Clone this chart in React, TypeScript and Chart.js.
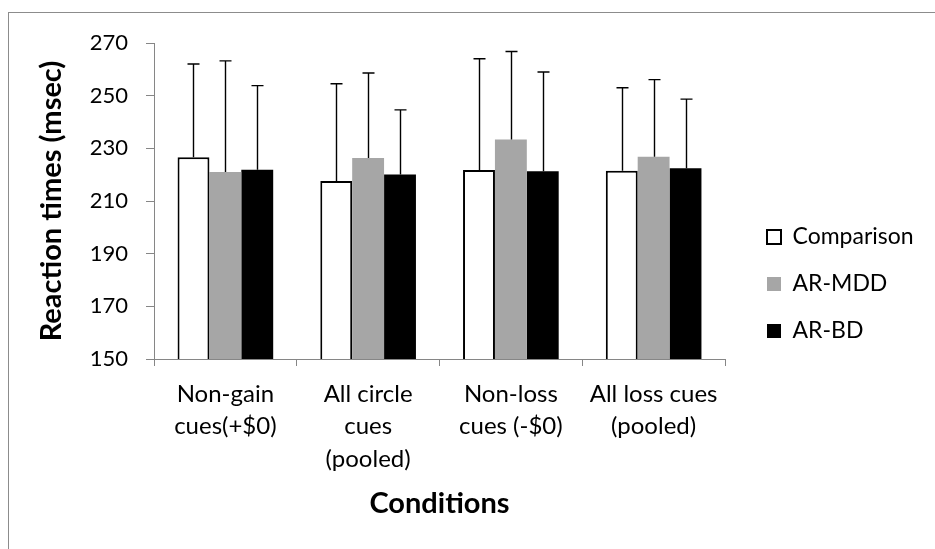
import React, { useEffect, useRef } from "react";
import { Chart, registerables } from "chart.js";

Chart.register(...registerables);

const categories: string[][] = [
  ["Non-gain", "cues(+$0)"],
  ["All circle", "cues", "(pooled)"],
  ["Non-loss", "cues (-$0)"],
  ["All loss cues", "(pooled)"],
];
const seriesNames = ["Comparison", "AR-MDD", "AR-BD"];
const comparison = [226.6, 217.6, 221.8, 221.5];
const arMdd = [221.0, 226.3, 233.4, 226.8];
const arBd = [221.9, 220.1, 221.3, 222.4];
const comparisonErr = [35.4, 36.9, 42.2, 31.5];
const arMddErr = [42.2, 32.3, 33.4, 29.3];
const arBdErr = [31.9, 24.5, 37.7, 26.3];
const yMin = 150;
const yMax = 270;
const yStep = 20;

const FONT = "Lato";
const AXIS_GRAY = "#868686";
const LEGEND_FONT = 23;
const LEGEND_PAD = 24;
const LEGEND_BOX = 14;
const LEGEND_LEFT = 743;

const framePlugin = {
  id: "frame",
  beforeDraw(chart: any) {
    const { ctx } = chart;
    ctx.save();
    ctx.fillStyle = "#fff";
    ctx.fillRect(0, 0, chart.width, chart.height);
    ctx.strokeStyle = "#8c8c8c";
    ctx.lineWidth = 1;
    ctx.strokeRect(8.5, 12.5, chart.width + 20, chart.height + 20);
    ctx.restore();
  },
};

const errorBarPlugin = {
  id: "errorBars",
  afterDatasetsDraw(chart: any) {
    const { ctx } = chart;
    const yScale = chart.scales.y;
    chart.data.datasets.forEach((ds: any, di: number) => {
      const meta = chart.getDatasetMeta(di);
      if (meta.hidden) return;
      meta.data.forEach((bar: any, i: number) => {
        const v = ds.data[i];
        const e = ds.errorUp[i];
        const top = yScale.getPixelForValue(v + e);
        const x = Math.round(bar.x) + 0.5;
        ctx.save();
        ctx.strokeStyle = "#000";
        ctx.lineWidth = 1.4;
        ctx.beginPath();
        ctx.moveTo(x, bar.y);
        ctx.lineTo(x, top);
        ctx.moveTo(x - 6, top);
        ctx.lineTo(x + 6, top);
        ctx.stroke();
        ctx.restore();
      });
    });
  },
};

export default function App() {
  const ref = useRef<HTMLCanvasElement | null>(null);

  useEffect(() => {
    if (!ref.current) return;
    Chart.defaults.font.family = FONT;

    const m = document.createElement("canvas").getContext("2d")!;
    m.font = `normal ${LEGEND_FONT}px ${FONT}`;
    const tw = Math.max(...seriesNames.map((s) => m.measureText(s).width));
    const legendW = LEGEND_PAD + LEGEND_BOX + LEGEND_FONT / 2 + tw + 10;
    const padRight = Math.max(0, 935 - LEGEND_LEFT - legendW);

    const chart = new Chart(ref.current, {
      type: "bar",
      data: {
        labels: categories,
        datasets: [
          {
            label: seriesNames[0],
            data: comparison,
            errorUp: comparisonErr,
            backgroundColor: "#ffffff",
            borderColor: "#000000",
            borderWidth: 2,
          } as any,
          {
            label: seriesNames[1],
            data: arMdd,
            errorUp: arMddErr,
            backgroundColor: "#a6a6a6",
            borderColor: "#a6a6a6",
            borderWidth: 0,
          } as any,
          {
            label: seriesNames[2],
            data: arBd,
            errorUp: arBdErr,
            backgroundColor: "#000000",
            borderColor: "#000000",
            borderWidth: 0,
          } as any,
        ],
      },
      plugins: [framePlugin, errorBarPlugin],
      options: {
        animation: false,
        responsive: true,
        maintainAspectRatio: false,
        layout: { padding: { top: 43, left: 0, right: padRight, bottom: 24 } },
        datasets: {
          bar: { categoryPercentage: 0.67, barPercentage: 1.0 },
        },
        plugins: {
          tooltip: { enabled: false },
          legend: {
            position: "right",
            maxWidth: 400,
            labels: {
              color: "#000",
              boxWidth: LEGEND_BOX,
              boxHeight: LEGEND_BOX,
              padding: LEGEND_PAD,
              font: { family: FONT, size: LEGEND_FONT },
            },
          },
        },
        scales: {
          x: {
            grid: {
              display: true,
              drawOnChartArea: false,
              drawTicks: true,
              tickLength: 7,
              color: AXIS_GRAY,
              offset: true,
            },
            border: { display: true, color: AXIS_GRAY, width: 1 },
            ticks: {
              color: "#000",
              padding: 12,
              maxRotation: 0,
              autoSkip: false,
              font: { family: FONT, size: 24, lineHeight: 1.35 },
            },
            title: {
              display: true,
              text: "Conditions",
              color: "#000",
              font: { family: FONT, size: 29, weight: "bold" },
              padding: { top: 0, bottom: 4 },
            },
            afterFit: (s: any) => {
              s.height = 166;
            },
          },
          y: {
            min: yMin,
            max: yMax,
            grid: {
              display: true,
              drawOnChartArea: false,
              drawTicks: true,
              tickLength: 8,
              color: AXIS_GRAY,
            },
            border: { display: true, color: AXIS_GRAY, width: 1 },
            ticks: {
              stepSize: yStep,
              color: "#000",
              padding: 18,
              font: { family: FONT, size: 22 },
            },
            title: {
              display: true,
              text: "Reaction times (msec)",
              color: "#000",
              font: { family: FONT, size: 29, weight: "bold" },
              padding: { top: 34, bottom: 0 },
            },
            afterFit: (s: any) => {
              s.width = 154;
            },
          },
          gap: {
            type: "linear",
            position: "right",
            display: true,
            grid: { display: false },
            border: { display: false },
            ticks: { display: false },
            afterFit: (s: any) => {
              s.width = 18;
            },
          },
        },
      } as any,
    });
    return () => chart.destroy();
  }, []);

  return (
    <div style={{ position: "absolute", left: 0, top: 0, width: 935, height: 549 }}>
      <canvas ref={ref} />
    </div>
  );
}
